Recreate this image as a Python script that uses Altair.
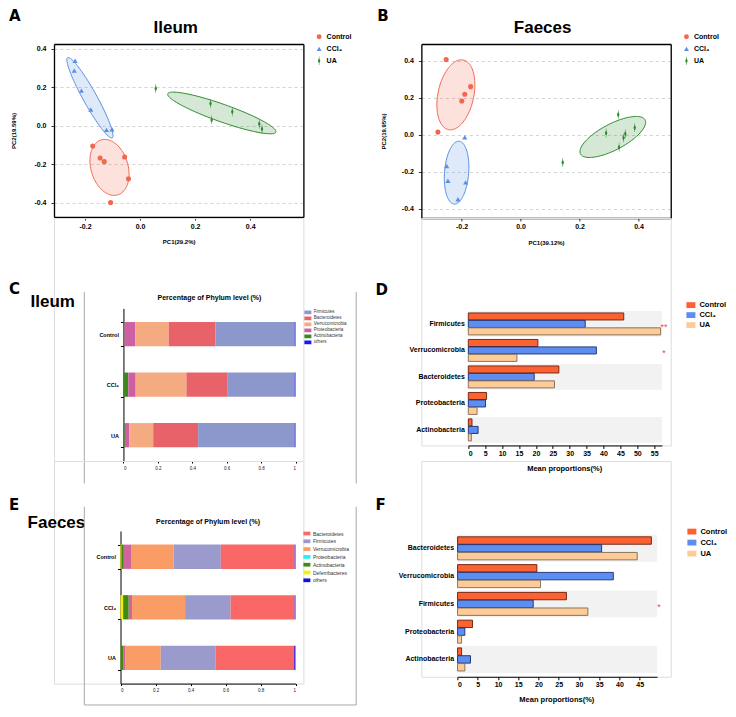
import altair as alt
import numpy as np
import pandas as pd

# ---------------- data ----------------
groups = ["Control", "CCl₄", "UA"]

# Panel A: Ileum PCA scores
A_control_x = [-0.172, -0.145, -0.130, -0.056, -0.042, -0.107]
A_control_y = [-0.106, -0.168, -0.187, -0.163, -0.276, -0.399]
A_ccl4_x = [-0.236, -0.239, -0.213, -0.179, -0.122, -0.102]
A_ccl4_y = [0.337, 0.286, 0.182, 0.084, -0.022, -0.019]
A_ua_x = [0.057, 0.256, 0.260, 0.335, 0.433, 0.443]
A_ua_y = [0.193, 0.115, 0.030, 0.072, 0.009, -0.017]
# ellipses: centre x, centre y, axis-1 vector (x, y), axis-2 vector (x, y)
A_ell_control = [-0.111, -0.217, 0.0295, -0.143, 0.0647, 0.0268]
A_ell_ccl4 = [-0.182, 0.145, 0.081, -0.2086, 0.0217, 0.0172]
A_ell_ua = [0.297, 0.066, 0.1964, -0.0995, 0.0107, 0.0429]

# Panel B: Faeces PCA scores
B_control_x = [-0.252, -0.169, -0.189, -0.199, -0.280]
B_control_y = [0.405, 0.259, 0.218, 0.182, 0.014]
B_ccl4_x = [-0.189, -0.250, -0.246, -0.186, -0.212]
B_ccl4_y = [-0.014, -0.169, -0.248, -0.257, -0.348]
B_ua_x = [0.143, 0.331, 0.290, 0.355, 0.349, 0.387, 0.334]
B_ua_y = [-0.150, 0.108, 0.009, 0.005, -0.017, 0.038, -0.068]
B_ell_control = [-0.219, 0.215, -0.0249, -0.1878, 0.0594, -0.0197]
B_ell_ccl4 = [-0.2166, -0.2044, -0.0083, -0.1694, 0.0408, -0.005]
B_ell_ua = [0.3127, -0.0122, 0.1093, 0.0919, 0.0208, -0.0617]

# Panel C: Ileum phylum composition (stack order, left to right)
ileum_phyla = ["Actinobacteria", "Proteobacteria", "Verrucomicrobia", "Bacteroidetes", "Firmicutes", "others"]
ileum_control = [0.006, 0.062, 0.195, 0.272, 0.459, 0.006]
ileum_ccl4 = [0.028, 0.043, 0.295, 0.240, 0.388, 0.006]
ileum_ua = [0.008, 0.026, 0.139, 0.261, 0.560, 0.006]
ileum_legend = ["Firmicutes", "Bacteroidetes", "Verrucomicrobia", "Proteobacteria", "Actinobacteria", "others"]

# Panel E: Faeces phylum composition
faeces_phyla = ["Deferribacteres", "Actinobacteria", "Proteobacteria", "Verrucomicrobia", "Firmicutes", "Bacteroidetes", "others"]
faeces_control = [0.006, 0.013, 0.041, 0.243, 0.270, 0.421, 0.006]
faeces_ccl4 = [0.015, 0.032, 0.019, 0.303, 0.260, 0.365, 0.006]
faeces_ua = [0.001, 0.017, 0.011, 0.201, 0.314, 0.447, 0.009]
faeces_legend = ["Bacteroidetes", "Firmicutes", "Verrucomicrobia", "Proteobacteria", "Actinobacteria", "Deferribacteres", "others"]

# Panel D: Ileum mean proportions (%)
D_cats = ["Firmicutes", "Verrucomicrobia", "Bacteroidetes", "Proteobacteria", "Actinobacteria"]
D_control = [46.0, 20.6, 26.8, 5.4, 1.1]
D_ccl4 = [34.6, 37.9, 19.5, 5.1, 2.9]
D_ua = [56.9, 14.4, 25.5, 2.6, 0.9]
D_stars = ["**", "*", "", "", ""]
D_ticks = [0, 5, 10, 15, 20, 25, 30, 35, 40, 45, 50, 55]

# Panel F: Faeces mean proportions (%)
F_cats = ["Bacteroidetes", "Verrucomicrobia", "Firmicutes", "Proteobacteria", "Actinobacteria"]
F_control = [47.9, 19.6, 26.9, 3.7, 1.0]
F_ccl4 = [35.6, 38.5, 18.7, 1.8, 3.2]
F_ua = [44.4, 20.5, 32.2, 1.0, 1.8]
F_stars = ["", "", "*", "", ""]
F_ticks = [0, 5, 10, 15, 20, 25, 30, 35, 40, 45]

# ---------------- styles ----------------
pca_colors = ["#F0694F", "#5B8FE3", "#2E8B2E"]
ileum_colors = ["#3C8A1C", "#CF5FA4", "#F4AB82", "#E8626A", "#8C97CB", "#3030E0"]
ileum_legend_colors = ["#8C97CB", "#E8626A", "#F4AB82", "#CF5FA4", "#3C8A1C", "#1818F0"]
faeces_colors = ["#F2F200", "#3F8A12", "#D0649F", "#FA9C66", "#9A9ACC", "#FA6767", "#5A32D8"]
faeces_legend_colors = ["#FA6767", "#9A9ACC", "#FA9C66", "#22F0F0", "#3F8A12", "#F2F200", "#1010E0"]
bar_fill = ["#FA6232", "#5C8DF0", "#FCCB98"]
bar_stroke = ["#6B1E0C", "#1C2B6B", "#7E6A55"]

SX, SY = 0.978, 0.972
FONT = "Liberation Sans"
LFONT = "DejaVu Sans"
CELL_W = 255
MINUS_FIX = "replace(format(datum.value, '.1f'), '\u2212', '-')"


def px(v):
    return round(v * SX, 2)


def py(v):
    return round(v * SY, 2)


def one_row():
    return pd.DataFrame({"a": [0]})


def text_layer(txt, x, y, size, align="left", weight="bold", font=FONT, color="black"):
    return alt.Chart(pd.DataFrame({"t": [txt]})).mark_text(
        align=align, baseline="alphabetic", fontSize=size, fontWeight=weight, font=font, color=color
    ).encode(text="t:N", x=alt.value(px(x)), y=alt.value(py(y)))


def rule_layer(x, y, x2=None, y2=None):
    enc = {"x": alt.value(px(x)), "y": alt.value(py(y))}
    if x2 is not None:
        enc["x2"] = alt.value(px(x2))
    if y2 is not None:
        enc["y2"] = alt.value(py(y2))
    return alt.Chart(one_row()).mark_rule(color="#a8a8a8", strokeWidth=1).encode(**enc)


# thin diamond with a vertical stroke through it
diamond = "M0,-1.3L0.5,0L0,1.3L-0.5,0Z M-0.09,-1.75H0.09V1.75H-0.09Z"


def pca_panel(xs, ys, ells, xdom, ydom, xtitle, ytitle, title, title_x, letter, letter_x,
              w, h, ytitle_x, leg_x, leg_y):
    W, H = px(w), py(h)
    rows = []
    for g, gx, gy in zip(groups, xs, ys):
        rows += [{"group": g, "pc1": a, "pc2": b} for a, b in zip(gx, gy)]
    pts = pd.DataFrame(rows)
    xsc = alt.Scale(domain=xdom, nice=False, zero=False)
    ysc = alt.Scale(domain=ydom, nice=False, zero=False)
    xax = alt.Axis(orient="bottom", values=[-0.2, 0.0, 0.2, 0.4], labelExpr=MINUS_FIX, grid=False,
                   title=xtitle, domain=True, domainColor="black", domainWidth=1.3,
                   labelFont=FONT, labelFontSize=7, labelFontWeight="bold", labelColor="black",
                   tickColor="#333", tickSize=3, labelPadding=2,
                   titleFont=FONT, titleFontSize=6, titleFontWeight="bold", titleColor="black",
                   titleX=W / 2, titleY=py(25), titleBaseline="middle", titleAlign="center")
    yax = alt.Axis(orient="left", values=[-0.4, -0.2, 0.0, 0.2, 0.4], labelExpr=MINUS_FIX, grid=True,
                   gridDash=[3, 3], gridColor="#c8c8c8", gridWidth=0.8, title=ytitle,
                   domain=True, domainColor="black", domainWidth=1.3,
                   labelFont=FONT, labelFontSize=7, labelFontWeight="bold", labelColor="black",
                   tickColor="#333", tickSize=3, labelPadding=5,
                   titleFont=FONT, titleFontSize=6, titleFontWeight="bold", titleColor="black",
                   titleX=-px(ytitle_x), titleY=H / 2, titleAngle=-90, titleBaseline="middle",
                   titleAlign="center")
    top_ax = alt.Axis(orient="top", labels=False, ticks=False, title=None, grid=False,
                      domain=True, domainColor="black", domainWidth=1.3)
    right_ax = alt.Axis(orient="right", labels=False, ticks=False, title=None, grid=False,
                        domain=True, domainColor="black", domainWidth=1.3)
    t = np.linspace(0, 2 * np.pi, 121)
    layers = []
    for n, (e, col) in enumerate(zip(ells, pca_colors)):
        cx, cy, ux, uy, vx, vy = e
        edf = pd.DataFrame({"i": np.arange(len(t)),
                            "pc1": cx + ux * np.cos(t) + vx * np.sin(t),
                            "pc2": cy + uy * np.cos(t) + vy * np.sin(t)})
        layers.append(alt.Chart(edf).mark_line(color=col, fill=col, fillOpacity=0.2, strokeWidth=1).encode(
            x=alt.X("pc1:Q", scale=xsc, axis=xax if n == 0 else None),
            y=alt.Y("pc2:Q", scale=ysc, axis=yax if n == 0 else None), order="i:Q"))
    leg = alt.Legend(orient="none", legendX=px(leg_x), legendY=py(leg_y), title=None, padding=0,
                     labelFont=FONT, labelFontSize=7, labelFontWeight="bold", labelColor="black",
                     symbolSize=24, rowPadding=4, labelOffset=4)
    layers.append(alt.Chart(pts).mark_point(filled=True, opacity=1, size=26).encode(
        x=alt.X("pc1:Q", scale=xsc, axis=None), y=alt.Y("pc2:Q", scale=ysc, axis=None),
        color=alt.Color("group:N", scale=alt.Scale(domain=groups, range=pca_colors), legend=leg),
        shape=alt.Shape("group:N", scale=alt.Scale(domain=groups, range=["circle", "triangle-up", diamond]),
                        legend=leg)))
    # top / right frame edges
    layers.append(alt.Chart(pts).mark_point(opacity=0).encode(
        x=alt.X("pc1:Q", scale=xsc, axis=top_ax), y=alt.Y("pc2:Q", scale=ysc, axis=right_ax)))
    layers.append(text_layer(title, title_x, -11, 17, align="center"))
    layers.append(text_layer(letter, letter_x, -24, 15, font=LFONT))
    return alt.layer(*layers).resolve_axis(x="independent", y="independent").properties(width=W, height=H)


def stack_panel(phyla, vals, colors, leg_names, leg_colors, big, big_y, letter, letter_x, letter_y,
                ox, oy, w, h, title_y, box, leg_x, leg_y, leg_font, leg_pad):
    rows = []
    for g, gv in zip(groups, vals):
        for k, (p, v) in enumerate(zip(phyla, gv)):
            rows.append({"group": g, "phylum": p, "share": v, "k": k})
    df = pd.DataFrame(rows)
    yenc = alt.Y("group:N", sort=groups,
                 scale=alt.Scale(paddingInner=0.52, paddingOuter=0.27, range=[py(oy), py(oy + h)]),
                 axis=alt.Axis(title=None, labelFont=FONT, labelFontSize=5.5, labelFontWeight="bold",
                               labelColor="black", domainColor="black", domainWidth=1, tickColor="black",
                               tickSize=3, tickBand="extent", labelPadding=2, offset=-px(ox)))
    xenc = alt.X("share:Q", stack="zero",
                 scale=alt.Scale(domain=[0, 1], nice=False, range=[px(ox), px(ox + w)]),
                 axis=alt.Axis(values=[0, 0.2, 0.4, 0.6, 0.8, 1], format="~g", title=None, grid=False,
                               labelFont=FONT, labelFontSize=4.5, labelColor="#222", domainColor="black",
                               tickColor="black", tickSize=2, labelPadding=2))
    bars = alt.Chart(df).mark_bar().encode(
        y=yenc, x=xenc,
        fill=alt.Fill("phylum:N", scale=alt.Scale(domain=phyla, range=colors), legend=None),
        order=alt.Order("k:Q"))
    legend_only = alt.Chart(df).transform_filter("false").mark_point(filled=True, opacity=1).encode(
        color=alt.Color("phylum:N", scale=alt.Scale(domain=leg_names, range=leg_colors),
                        legend=alt.Legend(orient="none", legendX=px(ox + leg_x), legendY=py(oy + leg_y),
                                          title=None, padding=0, symbolType="M-1,-0.53H1V0.53H-1Z",
                                          symbolSize=49, symbolStrokeWidth=0, labelFont=FONT,
                                          labelFontSize=leg_font, labelColor="#333", rowPadding=leg_pad,
                                          labelOffset=2.5)))
    bl, br, bt, bb, bottom_line = box
    layers = [bars, legend_only,
              text_layer("Percentage of Phylum level (%)", ox + w / 2, oy + title_y, 7, align="center"),
              text_layer(big, ox - 95, oy + big_y, 17),
              text_layer(letter, ox + letter_x, oy + letter_y, 15, font=LFONT),
              rule_layer(ox + bl, oy + bt, y2=oy + bb), rule_layer(ox + br, oy + bt, y2=oy + bb)]
    if bottom_line:
        layers.append(rule_layer(ox + bl, oy + bb, x2=ox + br))
    return alt.layer(*layers).properties(width=px(CELL_W), height=py(oy + h))


def mean_panel(cats, vals, stars, xmax, ticks, ox, oy, w, h, po, letter, letter_x, letter_y,
               leg_x, leg_y, star_x, title_y, leg_pad):
    rows = [{"cat": c, "group": g, "pct": v} for g, gv in zip(groups, vals) for c, v in zip(cats, gv)]
    df = pd.DataFrame(rows)
    xsc = alt.Scale(domain=[0, xmax], nice=False, range=[px(ox), px(ox + w)])
    xax = alt.Axis(values=ticks, title="Mean proportions(%)", grid=False,
                   labelFont=FONT, labelFontSize=7, labelFontWeight="bold", labelColor="black",
                   domainColor="black", tickColor="black", tickSize=3, labelPadding=1,
                   titleFont=FONT, titleFontSize=7.5, titleFontWeight="bold", titleColor="black",
                   titleX=px(ox + w / 2 - 1), titleY=py(title_y), titleBaseline="middle", titleAlign="center")
    yenc = alt.Y("cat:N", sort=cats,
                 scale=alt.Scale(paddingInner=0.03, paddingOuter=po, range=[py(oy), py(oy + h)]),
                 axis=alt.Axis(title=None, domain=False, ticks=False, labelFont=FONT, labelFontSize=7,
                               labelFontWeight="bold", labelColor="black", labelPadding=4, offset=-px(ox)))
    shade = pd.DataFrame({"cat": cats[0::2], "x0": 0.0, "x1": xmax})
    bands = alt.Chart(shade).mark_bar(color="#F2F2F2").encode(
        y=yenc, x=alt.X("x0:Q", scale=xsc, axis=xax), x2="x1:Q")
    bars = alt.Chart(df).mark_bar(strokeWidth=0.9).encode(
        y=yenc,
        yOffset=alt.YOffset("group:N", sort=groups, scale=alt.Scale(paddingInner=0.05, paddingOuter=0.25)),
        x=alt.X("pct:Q", scale=xsc, axis=xax),
        color=alt.Color("group:N", scale=alt.Scale(domain=groups, range=bar_fill),
                        legend=alt.Legend(orient="none", legendX=px(ox + leg_x), legendY=py(oy + leg_y),
                                          title=None, padding=0, symbolType="M-1,-0.65H1V0.65H-1Z",
                                          symbolSize=81, symbolStrokeWidth=0, labelFont=FONT,
                                          labelFontSize=7.5, labelFontWeight="bold", labelColor="black",
                                          rowPadding=leg_pad, labelOffset=4)),
        stroke=alt.Stroke("group:N", scale=alt.Scale(domain=groups, range=bar_stroke), legend=None))
    sdf = pd.DataFrame({"cat": cats, "s": stars})
    star_layer = alt.Chart(sdf).transform_filter("datum.s != ''").mark_text(
        color="#E8495A", fontSize=9, align="center", baseline="middle", dy=3).encode(
        y=yenc, text="s:N", x=alt.value(px(ox + star_x)))
    layers = [bands, bars, star_layer, text_layer(letter, ox + letter_x, oy + letter_y, 15, font=LFONT)]
    return alt.layer(*layers).properties(width=px(CELL_W), height=py(oy + h))


A = pca_panel([A_control_x, A_ccl4_x, A_ua_x], [A_control_y, A_ccl4_y, A_ua_y],
              [A_ell_control, A_ell_ccl4, A_ell_ua], [-0.3126, 0.5933], [-0.4747, 0.4242],
              "PC1(29.2%)", "PC2(19.59%)", "Ileum", 124.5, "A", -46, 255, 178, 41, 267.5, -11)
B = pca_panel([B_control_x, B_ccl4_x, B_ua_x], [B_control_y, B_ccl4_y, B_ua_y],
              [B_ell_control, B_ell_ccl4, B_ell_ua], [-0.336, 0.509], [-0.449, 0.489],
              "PC1(39.12%)", "PC2(19.95%)", "Faeces", 124, "B", -45, 255, 179, 39, 267.5, -11)
C = stack_panel(ileum_phyla, [ileum_control, ileum_ccl4, ileum_ua], ileum_colors, ileum_legend,
                ileum_legend_colors, "Ileum", -1, "C", -117, -15, 71, 93, 176, 157, -8.5,
                (-40, 238, -17, 180, False), 185, 0.5, 4.5, 0)
D = mean_panel(D_cats, [D_control, D_ccl4, D_ua], D_stars, 57.3, D_ticks, 48, 93, 198, 141, 0.1,
               "D", -95, -14, 223, -8, 200, 24, 2)
E = stack_panel(faeces_phyla, [faeces_control, faeces_ccl4, faeces_ua], faeces_colors, faeces_legend,
                faeces_legend_colors, "Faeces", -3, "E", -114, -22, 68, 72, 179, 157, -7.5,
                (-37, 241, -25, 179, True), 187, -1, 5, 0.8)
F = mean_panel(F_cats, [F_control, F_ccl4, F_ua], F_stars, 49.3, F_ticks, 37, 72, 204, 150, 0.14,
               "F", -84, -22, 235, -4, 206, 23, 3)

chart = alt.concat(
    A, B, C, D, E, F,
    columns=2, spacing={"row": 0, "column": px(120)}, bounds="flush", align="each",
).resolve_scale(
    color="independent", shape="independent", fill="independent", stroke="independent",
    yOffset="independent"
).resolve_legend(
    color="independent", shape="independent", fill="independent", stroke="independent"
).properties(padding=0).configure_view(stroke="transparent", strokeWidth=0).configure(font=FONT)

chart.save("out.html", embed_options={"renderer": "svg", "actions": False})
